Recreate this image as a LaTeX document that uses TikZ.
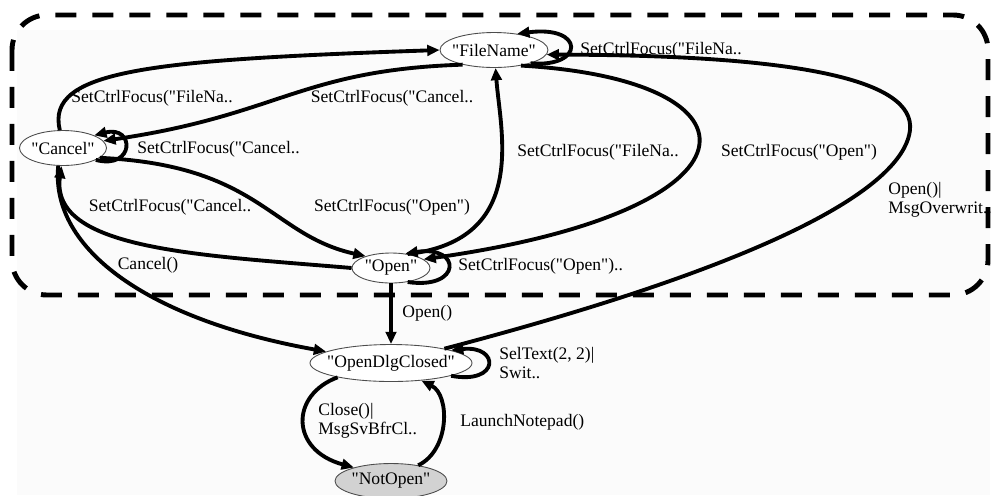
\documentclass[tikz,border=0pt]{standalone}
\usepackage{fontspec}
\setmainfont{Liberation Serif}[Ligatures=TeXOff]
\usetikzlibrary{shapes.geometric,arrows.meta}

\begin{document}
\begin{tikzpicture}[x=0.02cm, y=-0.02cm,
    state/.style={ellipse, draw=black!70, line width=0.5pt, fill=white, inner xsep=-8pt, inner ysep=0pt, minimum height=0.7cm, font=\fontsize{10}{11}\selectfont},
    trans/.style={line width=2.2pt, -{Triangle[length=7pt, width=6pt]}},
    lbl/.style={font=\fontsize{10}{11}\selectfont, inner sep=0pt, align=left}]
    \useasboundingbox (0,0) rectangle (993,495);
    \fill[gray!3] (17,30) rectangle (990,495);
    \draw[line width=2.8pt, dash pattern=on 0.42cm off 0.32cm, rounded corners=0.7cm] (12,15) rectangle (988,295);

    \node[state, minimum width=2.16cm] (filename) at (494,50) {"FileName"};
    \node[state, minimum width=1.74cm] (cancel) at (63,148) {"Cancel"};
    \node[state, minimum width=1.56cm, minimum height=0.6cm] (open) at (391,268) {"Open"};
    \node[state, minimum width=3.24cm, minimum height=0.74cm] (odc) at (391,363) {"OpenDlgClosed"};
    \node[state, minimum width=2.24cm, fill=gray!35] (notopen) at (391,481) {"NotOpen"};

    % inside the dialog
    \draw[trans] (cancel.100) .. controls (45,70) and (150,60) .. (filename.west);
    \draw[trans] (filename.205) .. controls (300,70) and (280,115) .. (cancel.10);
    \draw[trans] (cancel.-20) .. controls (135,170) and (135,125) .. (cancel.22);
    \draw[trans] (cancel.-15) .. controls (260,165) and (270,235) .. (open.155);
    \draw[trans] (open.west) .. controls (200,255) and (50,250) .. (cancel.-95);
    \draw[trans] (open.40) .. controls (530,240) and (500,130) .. (filename.-85);
    \draw[trans] (filename.-30) .. controls (772,80) and (772,210) .. (open.15);
    \draw[trans] (filename.-20) .. controls (585,68) and (585,25) .. (filename.35);
    \draw[trans] (open.-40) .. controls (462,290) and (462,245) .. (open.45);

    % leaving and entering the dialog
    \draw[trans] (cancel.-105) .. controls (50,250) and (150,320) .. (odc.170);
    \draw[trans] (open.south) -- (odc.north);
    \draw[trans] (odc.15) .. controls (820,250) and (905,175) .. (910,130)
        .. controls (915,80) and (800,55) .. (filename.-5);
    \draw[trans] (odc.-12) .. controls (500,385) and (500,345) .. (odc.12);
    \draw[trans] (odc.-165) .. controls (290,395) and (290,450) .. (notopen.160);
    \draw[trans] (notopen.30) .. controls (450,450) and (450,395) .. (odc.-30);

    \node[lbl] (cf-lbl) at (152,98) {SetCtrlFocus("FileNa..};
    \node[lbl] (fc-lbl) at (392,98) {SetCtrlFocus("Cancel..};
    \node[lbl, anchor=west] (cc-lbl) at (137,149) {SetCtrlFocus("Cancel..};
    \node[lbl] (oc-lbl) at (170,207) {SetCtrlFocus("Cancel..};
    \node[lbl] (co-lbl) at (392,207) {SetCtrlFocus("Open")};
    \node[lbl, anchor=west] (ff-lbl) at (580,50) {SetCtrlFocus("FileNa..};
    \node[lbl] (of-lbl) at (598,152) {SetCtrlFocus("FileNa..};
    \node[lbl] (fo-lbl) at (799,152) {SetCtrlFocus("Open")};
    \node[lbl, anchor=west] (df-lbl) at (888,200) {Open()|\\MsgOverwrit..};
    \node[lbl] (cd-lbl) at (148,265) {Cancel()};
    \node[lbl, anchor=west] (oo-lbl) at (458,266) {SetCtrlFocus("Open")..};
    \node[lbl, anchor=west] (od-lbl) at (402,313) {Open()};
    \node[lbl, anchor=west] (dd-lbl) at (499,363) {SelText(2, 2)|\\Swit..};
    \node[lbl, anchor=west] (dn-lbl) at (318,421) {Close()|\\MsgSvBfrCl..};
    \node[lbl, anchor=west] (nd-lbl) at (460,422) {LaunchNotepad()};
\end{tikzpicture}
\end{document}
